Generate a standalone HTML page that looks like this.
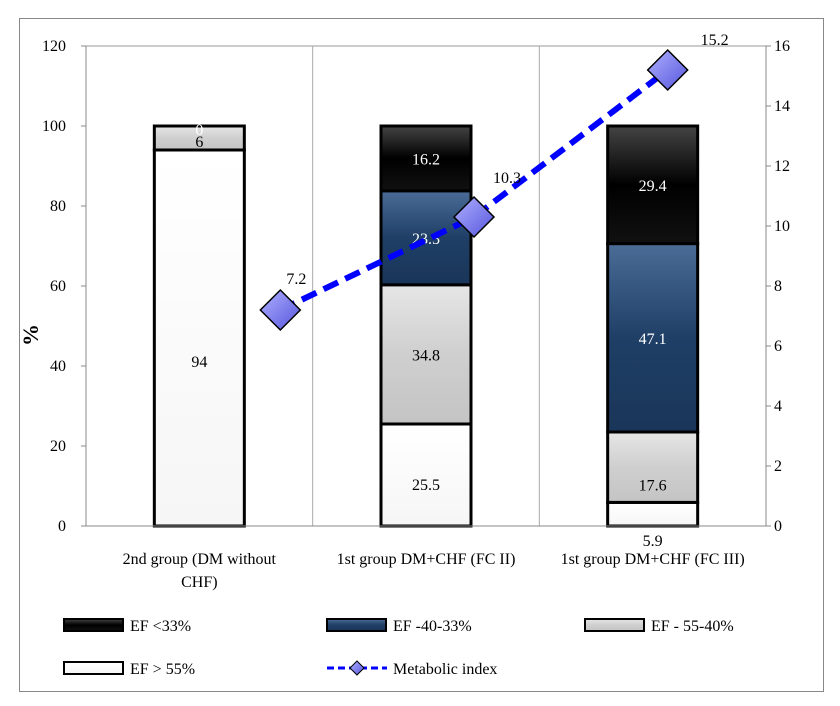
<!DOCTYPE html>
<html><head><meta charset="utf-8"><style>
body{margin:0;background:#fff;}
svg{display:block;font-family:"Liberation Serif",serif;}
</style></head><body>
<svg id="c" width="840" height="706">
<defs>
<linearGradient id="gB" x1="0" y1="0" x2="0" y2="1"><stop offset="0" stop-color="#444"/><stop offset=".5" stop-color="#000"/><stop offset="1" stop-color="#111"/></linearGradient>
<linearGradient id="gN" x1="0" y1="0" x2="0" y2="1"><stop offset="0" stop-color="#4a6c96"/><stop offset=".5" stop-color="#1f3f66"/><stop offset="1" stop-color="#1a3659"/></linearGradient>
<linearGradient id="gG" x1="0" y1="0" x2="0" y2="1"><stop offset="0" stop-color="#e6e6e6"/><stop offset=".5" stop-color="#cfcfcf"/><stop offset="1" stop-color="#c4c4c4"/></linearGradient>
<linearGradient id="gW" x1="0" y1="0" x2="0" y2="1"><stop offset="0" stop-color="#fff"/><stop offset="1" stop-color="#f6f6f6"/></linearGradient>
<linearGradient id="gD" x1="0" y1="0" x2="1" y2="1"><stop offset="0" stop-color="#b0b0ff"/><stop offset="1" stop-color="#5555dd"/></linearGradient>
</defs>
<rect x="19.5" y="18.5" width="804" height="673" fill="#fff" stroke="#888"/>
<g id="grid"></g><g id="bars"></g><g id="line"></g><g id="axes"></g>
<text x="38" y="335" font-size="22" font-weight="bold" text-anchor="middle" transform="rotate(-90 38 335)">%</text>
<g id="legend" font-size="16"></g>
</svg>
<script>
const categories=["2nd group (DM without|CHF)","1st group DM+CHF (FC II)","1st group DM+CHF (FC III)"];
const efGt55=[94,25.5,5.9];
const ef55_40=[6,34.8,17.6];
const ef40_33=[0,23.5,47.1];
const efLt33=[0,16.2,29.4];
const metabolic=[7.2,10.3,15.2];
const leftTicks=[0,20,40,60,80,100,120];
const rightTicks=[0,2,4,6,8,10,12,14,16];
const NS="http://www.w3.org/2000/svg";
const X0=86,X1=766,Y0=526,Y1=46;
const y=v=>Y0-(v/120)*(Y0-Y1);
const yR=v=>Y0-(v/16)*(Y0-Y1);
const cw=(X1-X0)/categories.length;
const xc=i=>X0+cw*(i+0.5);
const xl=i=>xc(i)+81-(i*33);
function mk(p,t,a){const e=document.createElementNS(NS,t);for(const k in a)e.setAttribute(k,a[k]);p.appendChild(e);return e;}
const G=document.getElementById('grid'),B=document.getElementById('bars'),L=document.getElementById('line'),A=document.getElementById('axes');
mk(G,'line',{x1:X0,x2:X1,y1:Y1,y2:Y1,stroke:'#999'});
for(let i=1;i<categories.length;i++){const l=mk(G,'line',{x1:X0+cw*i,x2:X0+cw*i,y1:Y1,y2:Y0,stroke:'#aaa'});

}
mk(A,'line',{x1:X0,x2:X0,y1:Y1,y2:Y0,stroke:'#888'});
mk(A,'line',{x1:X1,x2:X1,y1:Y1,y2:Y0,stroke:'#888'});
mk(A,'line',{x1:X0,x2:X1,y1:Y0,y2:Y0,stroke:'#888'});
leftTicks.forEach(t=>{mk(A,'line',{x1:X0-5,x2:X0,y1:y(t),y2:y(t),stroke:'#888'});
const tx=mk(A,'text',{x:X0-20,y:y(t)+5,'font-size':16,'text-anchor':'end'});tx.textContent=t;

});
rightTicks.forEach(t=>{mk(A,'line',{x1:X1,x2:X1+5,y1:yR(t),y2:yR(t),stroke:'#888'});
const tx=mk(A,'text',{x:X1+8,y:yR(t)+5,'font-size':16});tx.textContent=t;

});
categories.forEach((c,i)=>{c.split('|').forEach((s,j)=>{const tx=mk(A,'text',{x:xc(i),y:564+j*23,'font-size':16,'text-anchor':'middle'});tx.textContent=s;

});});
const series=[[efGt55,'url(#gW)','#000'],[ef55_40,'url(#gG)','#000'],[ef40_33,'url(#gN)','#fff'],[efLt33,'url(#gB)','#fff']];
const bw=90;
categories.forEach((c,i)=>{let base=0;series.forEach((s,k)=>{const v=s[0][i];const top=base+v;
if(v>0){const r=mk(B,'rect',{x:xc(i)-bw/2,y:y(top),width:bw,height:y(base)-y(top),fill:s[1],stroke:'#000','stroke-width':3});

}
let ly=(y(base)+y(top))/2+6,col=s[2];
if(k==0&&i==0)ly+=23;
if(k==0&&i==1)ly=y(base)-36;
if(k==1&&i==2)ly=y(base)-12;
if(k==0&&i==2){ly=y(0)+20;}
if(k==1&&i==0)ly=y(top)+21;
if(k==3&&i==0){ly=y(top)+9;col='#fff';}
if(!(k==2&&i==0)){const tx=mk(B,'text',{x:xc(i),y:ly,'font-size':16,'text-anchor':'middle',fill:col});tx.textContent=v;

}
base=top;});});
const pts=metabolic.map((v,i)=>xl(i)+','+yR(v)).join(' ');
const pl=mk(L,'polyline',{points:pts,fill:'none',stroke:'#0000ff','stroke-width':6,'stroke-dasharray':'16 8'});


const lo=[[16,-32],[33,-40],[47,-31]];
metabolic.forEach((v,i)=>{const cx=xl(i),cy=yR(v);
const d=mk(L,'polygon',{points:`${cx},${cy-20} ${cx+20},${cy} ${cx},${cy+20} ${cx-20},${cy}`,fill:'url(#gD)',stroke:'#000','stroke-width':1.5});


const tx=mk(L,'text',{x:cx+lo[i][0],y:cy+lo[i][1]+6,'font-size':16,'text-anchor':'middle'});tx.textContent=v;

});
const LG=document.getElementById('legend');
const leg=[[64,625,'url(#gB)','EF <33%'],[327,625,'url(#gN)','EF -40-33%'],[585,625,'url(#gG)','EF - 55-40%'],[64,668,'url(#gW)','EF > 55%']];
leg.forEach(l=>{const g=mk(LG,'g',{});


mk(g,'rect',{x:l[0],y:l[1]-6,width:59,height:12,fill:l[2],stroke:'#000','stroke-width':2});
const t=mk(g,'text',{x:l[0]+66,y:l[1]+6});t.textContent=l[3];});
const g=mk(LG,'g',{});


mk(g,'line',{x1:327,x2:387,y1:668,y2:668,stroke:'#0000ff','stroke-width':3,'stroke-dasharray':'7 4'});
mk(g,'polygon',{points:'357,661 364,668 357,675 350,668',fill:'url(#gD)',stroke:'#000'});
const t=mk(g,'text',{x:393,y:674});t.textContent='Metabolic index';
</script>
</body></html>
